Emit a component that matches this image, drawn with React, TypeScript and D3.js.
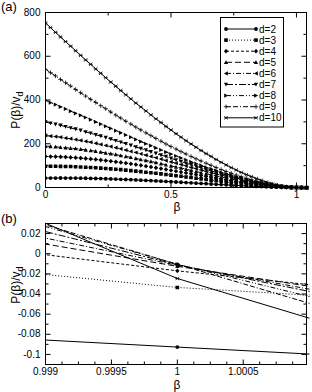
import React, { useEffect, useRef } from 'react';
import * as d3 from 'd3';

// beta grid of the computed curves
const beta = [
  0, 0.02, 0.04, 0.06, 0.08, 0.1, 0.12, 0.14, 0.16, 0.18, 0.2, 0.22, 0.24, 0.26, 0.28, 0.3, 0.32, 0.34,
  0.36, 0.38, 0.4, 0.42, 0.44, 0.46, 0.48, 0.5, 0.52, 0.54, 0.56, 0.58, 0.6, 0.62, 0.64, 0.66, 0.68, 0.7,
  0.72, 0.74, 0.76, 0.78, 0.8, 0.82, 0.84, 0.86, 0.88, 0.9, 0.92, 0.94, 0.96, 0.98, 1, 1.02, 1.04,
];

// P(beta)/v_d for each dimension d
const p2 = [
  43, 43.2, 43.3, 43.4, 43.3, 43.1, 42.9, 42.6, 42.2, 41.7, 41.2, 40.6, 39.9, 39.2, 38.4, 37.5, 36.6, 35.6,
  34.6, 33.6, 32.5, 31.3, 30.2, 29.0, 27.7, 26.5, 25.2, 23.9, 22.6, 21.3, 19.9, 18.6, 17.3, 15.9, 14.6, 13.3,
  12.1, 10.8, 9.6, 8.4, 7.2, 6.2, 5.1, 4.1, 3.2, 2.4, 1.7, 1.0, 0.53, 0.047, -0.0927, -0.231, -0.37,
];
const p3 = [
  97, 97.1, 97.0, 96.7, 96.3, 95.7, 94.9, 94.0, 92.9, 91.7, 90.3, 88.8, 87.1, 85.3, 83.5, 81.5, 79.4, 77.2,
  74.9, 72.5, 70.0, 67.5, 64.9, 62.2, 59.5, 56.7, 53.9, 51.1, 48.2, 45.4, 42.5, 39.6, 36.8, 33.9, 31.1, 28.3,
  25.6, 22.9, 20.3, 17.8, 15.3, 13.0, 10.8, 8.7, 6.8, 5.1, 3.5, 2.2, 1.1, 0.2225, -0.0335, -0.186, -0.33,
];
const p4 = [
  142, 141.6, 141.0, 140.1, 139.0, 137.7, 136.2, 134.5, 132.6, 130.5, 128.3, 125.8, 123.3, 120.5, 117.6,
  114.6, 111.5, 108.2, 104.8, 101.3, 97.7, 94.0, 90.3, 86.5, 82.6, 78.7, 74.7, 70.7, 66.7, 62.7, 58.6, 54.6,
  50.6, 46.7, 42.7, 38.9, 35.1, 31.4, 27.8, 24.3, 21.0, 17.8, 14.8, 11.9, 9.3, 6.9, 4.8, 3.0, 1.5, 0.303,
  -0.017, -0.291, -0.55,
];
const p5 = [
  189, 188, 186, 184, 182, 180, 178, 175, 172, 169, 166, 162, 158, 155, 151, 146, 142, 138, 133, 128, 124,
  119, 114, 109, 104, 99, 94, 89, 84, 78, 73, 68, 63, 58, 53, 48, 44, 39, 34, 30, 26, 22.0, 18.2, 14.7, 11.5,
  8.5, 5.9, 3.7, 1.9, 0.4295, -0.0125, -0.408, -0.8,
];
const p6 = [
  238, 235, 233, 230, 226, 223, 219, 215, 211, 207, 202, 197, 192, 187, 182, 177, 171, 165, 160, 154, 148,
  142, 136, 130, 123, 117, 111, 105, 99, 92, 86, 80, 74, 68, 62, 57, 51, 45, 40, 35, 30, 26, 21.2, 17.1, 13.3,
  9.9, 6.8, 4.2, 2.2, 0.5285, -0.0115, -0.4845, -0.9,
];
const p7 = [
  299, 294, 289, 284, 278, 272, 267, 261, 254, 248, 241, 235, 228, 221, 214, 207, 200, 193, 185, 178, 171,
  163, 156, 148, 141, 133, 126, 119, 111, 104, 97, 90, 83, 76, 69, 63, 57, 50, 44, 39, 33, 28, 23, 18.8, 14.6,
  10.8, 7.5, 4.6, 2.3, 0.649, -0.011, -0.539, -1.0,
];
const p8 = [
  398, 388, 379, 369, 359, 349, 339, 330, 320, 310, 300, 290, 280, 270, 260, 250, 240, 230, 220, 210, 200,
  191, 181, 172, 162, 153, 144, 135, 126, 117, 109, 101, 92, 85, 77, 69, 62, 55, 49, 42, 36, 30, 25, 20, 15.6,
  11.5, 7.9, 4.9, 2.5, 0.7395, -0.0105, -0.65, -1.2,
];
const p9 = [
  541, 525, 510, 494, 479, 464, 448, 433, 418, 403, 389, 374, 360, 345, 331, 317, 303, 290, 276, 263, 250,
  237, 224, 212, 199, 187, 176, 164, 153, 142, 131, 121, 111, 101, 91, 82, 73, 65, 57, 49, 42, 35, 29, 23, 18,
  13.2, 9.1, 5.6, 2.8, 0.7715, -0.0105, -0.784, -1.4,
];
const p10 = [
  752, 731, 709, 688, 667, 646, 625, 604, 583, 563, 542, 522, 502, 482, 463, 443, 424, 405, 386, 368, 350,
  332, 314, 297, 279, 263, 246, 230, 214, 199, 184, 169, 155, 142, 128, 115, 103, 91, 80, 69, 59, 50, 41, 33,
  25, 18.6, 12.8, 7.9, 4.0, 1.0714, -0.0246, -0.812, -1.4,
];

const seriesLabels = ['d=2', 'd=3', 'd=4', 'd=5', 'd=6', 'd=7', 'd=8', 'd=9', 'd=10'];
const seriesValues = [p2, p3, p4, p5, p6, p7, p8, p9, p10];

// ticks
const xMajorA = [0, 0.5, 1];
const xMinorA = [0.25, 0.75];
const yMajorA = [0, 200, 400, 600, 800];
const yMinorA = [100, 300, 500, 700];
const xMajorB = [0.999, 0.9995, 1, 1.0005];
const xMinorB = [
  0.999125, 0.99925, 0.999375, 0.999625, 0.99975, 0.999875, 1.000125, 1.00025, 1.000375, 1.000625, 1.00075,
  1.000875,
];
const yMajorB = [-0.1, -0.08, -0.06, -0.04, -0.02, 0, 0.02];
const yMinorB = [-0.09, -0.07, -0.05, -0.03, -0.01, 0.01];

// styles per series
const dashes = ['', '1,2', '3,2', '6,3', '5,2,1,2', '7,2,2,2', '5,2,1,2,1,2', '5,2,5,2,1,2', ''];
const markers = ['circle', 'square', 'diamond', 'up', 'left', 'down', 'right', 'plus', 'x'];

const FONT = "'Liberation Sans', Arial, sans-serif";

function markerPath(kind: string): string {
  const s = 2.1;
  switch (kind) {
    case 'circle':
      return `M${-1.9},0a1.9,1.9 0 1,0 3.8,0a1.9,1.9 0 1,0 -3.8,0Z`;
    case 'square':
      return `M-1.8,-1.8h3.6v3.6h-3.6Z`;
    case 'diamond':
      return `M0,${-s - 0.3}L${s},0L0,${s + 0.3}L${-s},0Z`;
    case 'up':
      return `M0,${-s}L${s},${s * 0.85}L${-s},${s * 0.85}Z`;
    case 'down':
      return `M0,${s}L${s},${-s * 0.85}L${-s},${-s * 0.85}Z`;
    case 'left':
      return `M${-s},0L${s * 0.85},${-s}L${s * 0.85},${s}Z`;
    case 'right':
      return `M${s},0L${-s * 0.85},${-s}L${-s * 0.85},${s}Z`;
    case 'plus':
      return `M-2.2,0H2.2M0,-2.2V2.2`;
    default:
      return `M-1.7,-1.7L1.7,1.7M-1.7,1.7L1.7,-1.7M-2,0H2`;
  }
}

const stroked = (kind: string) => kind === 'plus' || kind === 'x';

const App: React.FC = () => {
  const ref = useRef<SVGSVGElement | null>(null);

  useEffect(() => {
    const svg = d3.select(ref.current);
    svg.selectAll('*').remove();
    const defs = svg.append('defs');

    const panels = [
      {
        id: 'a',
        x: d3.scaleLinear().domain([0, 1.04]).range([45.5, 306.5]),
        y: d3.scaleLinear().domain([0, 800]).range([187.5, 12.5]),
        xMajor: xMajorA,
        xMinor: xMinorA,
        yMajor: yMajorA,
        yMinor: yMinorA,
        tag: '(a)',
        tagY: 11,
        titleY: 110,
        betaY: 211,
      },
      {
        id: 'b',
        x: d3.scaleLinear().domain([0.999, 1.00098]).range([45.5, 306.5]),
        y: d3.scaleLinear().domain([-0.11, 0.03]).range([364.5, 223.5]),
        xMajor: xMajorB,
        xMinor: xMinorB,
        yMajor: yMajorB,
        yMinor: yMinorB,
        tag: '(b)',
        tagY: 223,
        titleY: 285,
        betaY: 389,
      },
    ];

    panels.forEach((p) => {
      const [x0, x1] = p.x.range();
      const [yb, yt] = p.y.range();
      const g = svg.append('g');

      defs
        .append('clipPath')
        .attr('id', `clip-${p.id}`)
        .append('rect')
        .attr('x', x0)
        .attr('y', yt - 3)
        .attr('width', x1 - x0 + 3)
        .attr('height', yb - yt + 6);

      const plot = g.append('g').attr('clip-path', `url(#clip-${p.id})`);

      seriesValues.forEach((vals, i) => {
        const line = d3
          .line<number>()
          .x((_, j) => p.x(beta[j]))
          .y((v) => p.y(v));
        plot
          .append('path')
          .attr('d', line(vals))
          .attr('fill', 'none')
          .attr('stroke', '#000')
          .attr('stroke-width', 1)
          .attr('stroke-dasharray', dashes[i] || null);

        plot
          .selectAll(null)
          .data(vals)
          .enter()
          .append('path')
          .attr('transform', (v, j) => `translate(${p.x(beta[j])},${p.y(v)})`)
          .attr('d', markerPath(markers[i]))
          .attr('fill', stroked(markers[i]) ? 'none' : '#000')
          .attr('stroke', stroked(markers[i]) ? '#000' : 'none')
          .attr('stroke-width', 0.8);
      });

      // frame
      g.append('rect')
        .attr('x', x0)
        .attr('y', yt)
        .attr('width', x1 - x0)
        .attr('height', yb - yt)
        .attr('fill', 'none')
        .attr('stroke', '#000')
        .attr('stroke-width', 1);

      const fmt = (d: d3.NumberValue) => String(+d);
      const none = () => '';
      const axes = [
        { ax: d3.axisBottom(p.x).tickValues(p.xMajor).tickSize(-5).tickPadding(3).tickFormat(fmt), t: `translate(0,${yb})` },
        { ax: d3.axisBottom(p.x).tickValues(p.xMinor).tickSize(-3).tickFormat(none), t: `translate(0,${yb})` },
        { ax: d3.axisTop(p.x).tickValues(p.xMajor).tickSize(-5).tickFormat(none), t: `translate(0,${yt})` },
        { ax: d3.axisTop(p.x).tickValues(p.xMinor).tickSize(-3).tickFormat(none), t: `translate(0,${yt})` },
        { ax: d3.axisLeft(p.y).tickValues(p.yMajor).tickSize(-5).tickPadding(5).tickFormat(fmt), t: `translate(${x0},0)` },
        { ax: d3.axisLeft(p.y).tickValues(p.yMinor).tickSize(-3).tickFormat(none), t: `translate(${x0},0)` },
        { ax: d3.axisRight(p.y).tickValues(p.yMajor).tickSize(-5).tickFormat(none), t: `translate(${x1},0)` },
        { ax: d3.axisRight(p.y).tickValues(p.yMinor).tickSize(-3).tickFormat(none), t: `translate(${x1},0)` },
      ];
      axes.forEach(({ ax, t }) => {
        const a = g.append('g').attr('transform', t).call(ax.offset(0));
        a.select('.domain').remove();
        a.attr('font-family', FONT).attr('font-size', 10);
      });

      // axis titles and panel tag
      const title = g
        .append('text')
        .attr('transform', `translate(20,${p.titleY}) rotate(-90)`)
        .attr('text-anchor', 'middle')
        .attr('font-family', FONT)
        .attr('font-size', 12);
      title.append('tspan').text('P(β)/v');
      title.append('tspan').attr('font-size', 9).attr('dy', 3).text('d');

      g.append('text')
        .attr('x', 177)
        .attr('y', p.betaY)
        .attr('text-anchor', 'middle')
        .attr('font-family', FONT)
        .attr('font-size', 12)
        .text('β');

      g.append('text')
        .attr('x', 1)
        .attr('y', p.tagY)
        .attr('font-family', FONT)
        .attr('font-size', 13)
        .text(p.tag);
    });

    // legend of panel (a)
    const lg = svg.append('g');
    lg.append('rect')
      .attr('x', 220.5)
      .attr('y', 17.5)
      .attr('width', 63)
      .attr('height', 109.5)
      .attr('fill', '#fff')
      .attr('stroke', '#000')
      .attr('stroke-width', 1);
    seriesLabels.forEach((label, i) => {
      const yy = 29 + i * 11.1;
      lg.append('line')
        .attr('x1', 226)
        .attr('x2', 256)
        .attr('y1', yy)
        .attr('y2', yy)
        .attr('stroke', '#000')
        .attr('stroke-width', 1)
        .attr('stroke-dasharray', dashes[i] || null);
      [226, 256].forEach((mx) => {
        lg.append('path')
          .attr('transform', `translate(${mx},${yy})`)
          .attr('d', markerPath(markers[i]))
          .attr('fill', stroked(markers[i]) ? 'none' : '#000')
          .attr('stroke', stroked(markers[i]) ? '#000' : 'none')
          .attr('stroke-width', 0.8);
      });
      lg.append('text')
        .attr('x', 259)
        .attr('y', yy)
        .attr('dy', '0.35em')
        .attr('font-family', FONT)
        .attr('font-size', 10)
        .text(label);
    });
  }, []);

  return (
    <svg
      ref={ref}
      width={312}
      height={392}
      style={{ position: 'absolute', left: 0, top: 0, background: '#fff' }}
    ></svg>
  );
};

export default App;
